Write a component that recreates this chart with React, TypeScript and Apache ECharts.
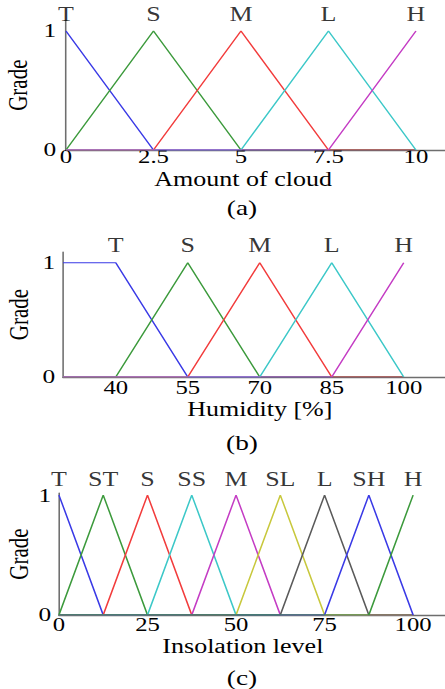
import React, { useEffect, useRef } from "react";
import * as echarts from "echarts";

// ---------- data ----------
// (a) Amount of cloud
const cloudNames = ["T", "S", "M", "L", "H"];
const cloudPeaks = [0, 2.5, 5, 7.5, 10];
const cloudTicks = [0, 2.5, 5, 7.5, 10];
const cloudT = [[0, 1], [2.5, 0], [10, 0]];
const cloudS = [[0, 0], [2.5, 1], [5, 0], [10, 0]];
const cloudM = [[0, 0], [2.5, 0], [5, 1], [7.5, 0], [10, 0]];
const cloudL = [[0, 0], [5, 0], [7.5, 1], [10, 0]];
const cloudH = [[0, 0], [7.5, 0], [10, 1]];

// (b) Humidity [%]
const humNames = ["T", "S", "M", "L", "H"];
const humPeaks = [40, 55, 70, 85, 100];
const humTicks = [40, 55, 70, 85, 100];
const humT = [[29, 1], [40, 1], [55, 0], [100, 0]];
const humS = [[29, 0], [40, 0], [55, 1], [70, 0], [100, 0]];
const humM = [[29, 0], [55, 0], [70, 1], [85, 0], [100, 0]];
const humL = [[29, 0], [70, 0], [85, 1], [100, 0]];
const humH = [[29, 0], [85, 0], [100, 1]];

// (c) Insolation level
const insNames = ["T", "ST", "S", "SS", "M", "SL", "L", "SH", "H"];
const insPeaks = [0, 12.5, 25, 37.5, 50, 62.5, 75, 87.5, 100];
const insTicks = [0, 25, 50, 75, 100];
const insT = [[0, 1], [12.5, 0], [100, 0]];
const insST = [[0, 0], [12.5, 1], [25, 0], [100, 0]];
const insS = [[0, 0], [12.5, 0], [25, 1], [37.5, 0], [100, 0]];
const insSS = [[0, 0], [25, 0], [37.5, 1], [50, 0], [100, 0]];
const insM = [[0, 0], [37.5, 0], [50, 1], [62.5, 0], [100, 0]];
const insSL = [[0, 0], [50, 0], [62.5, 1], [75, 0], [100, 0]];
const insL = [[0, 0], [62.5, 0], [75, 1], [87.5, 0], [100, 0]];
const insSH = [[0, 0], [75, 0], [87.5, 1], [100, 0]];
const insH = [[0, 0], [87.5, 0], [100, 1]];

const gradeTicks = [0, 1];

const colorsAB = ["#3a3ae6", "#3c9a3c", "#f23c3c", "#3cc8c8", "#c43cc4"];
const colorsC = [
  "#3a3ae6", "#3c9a3c", "#f23c3c", "#3cc8c8", "#c43cc4",
  "#c8c83c", "#5a5a5a", "#3a3ae6", "#3c9a3c",
];

// ---------- layout ----------
const W = 342;
const H = 689;
const STRETCH = 445 / W;
const FONT = "Liberation Serif";
const TXT = "#000";
const AXIS = "#6e6e6e";

export default function App() {
  const ref = useRef<HTMLDivElement>(null);

  useEffect(() => {
    document.body.style.margin = "0";
    if (!ref.current) return;
    const chart = echarts.init(ref.current, undefined, { renderer: "svg" });

    const grids = [
      { left: 50.7, top: 20.3, width: W - 50.7, height: 129.7 },
      { left: 48.4, top: 252, width: W - 48.4, height: 125 },
      { left: 45.3, top: 493, width: W - 45.3, height: 122 },
    ].map((g) => ({ ...g, containLabel: false, outerBoundsMode: "none" }));

    const xCfg = [
      { min: 0, max: 10.83, ticks: cloudTicks, name: "Amount of cloud", gap: 22, margin: 0.25, pad: [0, 19, 0, 0] },
      { min: 29, max: 108.6, ticks: humTicks, name: "Humidity [%]", gap: 25.5, margin: 3.75, pad: [0, 0, 0, 9] },
      { min: 0, max: 109, ticks: insTicks, name: "Insolation level", gap: 24, margin: 2.75, pad: [0, 14, 0, 0] },
    ];
    const yCfg = [
      { max: 1.09, gap: 26.6, margin: 7.5 },
      { max: 1.094, gap: 23.8, margin: 6 },
      { max: 1.017, gap: 20.7, margin: 6 },
    ];

    const xAxis = xCfg.map((c, i) => ({
      type: "value",
      gridIndex: i,
      min: c.min,
      max: c.max,
      axisLine: { show: true, lineStyle: { color: AXIS, width: 1.4 } },
      axisTick: { show: false },
      splitLine: { show: false },
      axisLabel: {
        customValues: c.ticks,
        margin: c.margin,
        fontSize: 19,
        lineHeight: 13.5,
        fontFamily: FONT,
        color: TXT,
        hideOverlap: false,
      },
      name: c.name,
      nameLocation: "middle",
      nameGap: c.gap,
      nameMoveOverlap: false,
      nameTextStyle: {
        fontSize: 20,
        lineHeight: 14,
        fontFamily: FONT,
        color: TXT,
        padding: c.pad,
      },
    }));

    const yAxis = yCfg.map((c, i) => ({
      type: "value",
      gridIndex: i,
      min: 0,
      max: c.max,
      axisLine: { show: true, lineStyle: { color: AXIS, width: 1.2 } },
      axisTick: { show: false },
      splitLine: { show: false },
      axisLabel: {
        customValues: gradeTicks,
        margin: c.margin,
        fontSize: 19.5,
        lineHeight: 14,
        fontFamily: FONT,
        color: TXT,
      },
      name: "Grade",
      nameLocation: "middle",
      nameGap: c.gap,
      nameMoveOverlap: false,
      nameTextStyle: { fontSize: 21, fontFamily: FONT, color: TXT },
    }));

    const panels = [
      { mfs: [cloudT, cloudS, cloudM, cloudL, cloudH], colors: colorsAB, names: cloudNames, peaks: cloudPeaks, dist: 6 },
      { mfs: [humT, humS, humM, humL, humH], colors: colorsAB, names: humNames, peaks: humPeaks, dist: 7.5 },
      { mfs: [insT, insST, insS, insSS, insM, insSL, insL, insSH, insH], colors: colorsC, names: insNames, peaks: insPeaks, dist: 5 },
    ];

    const series: any[] = [];
    panels.forEach((p, gi) => {
      p.mfs.forEach((d, k) => {
        series.push({
          type: "line",
          xAxisIndex: gi,
          yAxisIndex: gi,
          data: d,
          showSymbol: false,
          symbol: "none",
          lineStyle: { color: p.colors[k], width: 1.2 },
          itemStyle: { color: p.colors[k] },
          silent: true,
        });
      });
      series.push({
        type: "scatter",
        xAxisIndex: gi,
        yAxisIndex: gi,
        symbolSize: 1,
        itemStyle: { color: "rgba(0,0,0,0)" },
        data: p.peaks.map((x, k) => [x, 1, p.names[k]]),
        label: {
          show: true,
          position: "top",
          distance: p.dist,
          formatter: (v: any) => v.data[2],
          fontSize: 20,
          fontFamily: FONT,
          color: TXT,
        },
        labelLayout: { hideOverlap: false },
        silent: true,
      });
    });

    const subs = [
      { t: "(a)", y: 208 },
      { t: "(b)", y: 443 },
      { t: "(c)", y: 678 },
    ];

    chart.setOption({
      animation: false,
      backgroundColor: "#ffffff",
      grid: grids,
      xAxis,
      yAxis,
      series,
      graphic: subs.map((s) => ({
        type: "text",
        x: 186,
        y: s.y,
        style: {
          text: s.t,
          fontSize: 21,
          fontFamily: FONT,
          fill: TXT,
          textAlign: "center",
          textVerticalAlign: "middle",
        },
      })),
    });

    return () => chart.dispose();
  }, []);

  return (
    <div
      style={{
        position: "absolute",
        left: 0,
        top: 0,
        width: 445,
        height: H,
        overflow: "hidden",
        background: "#fff",
      }}
    >
      <div
        ref={ref}
        style={{
          width: W,
          height: H,
          transform: `scaleX(${STRETCH})`,
          transformOrigin: "0 0",
        }}
      />
    </div>
  );
}
